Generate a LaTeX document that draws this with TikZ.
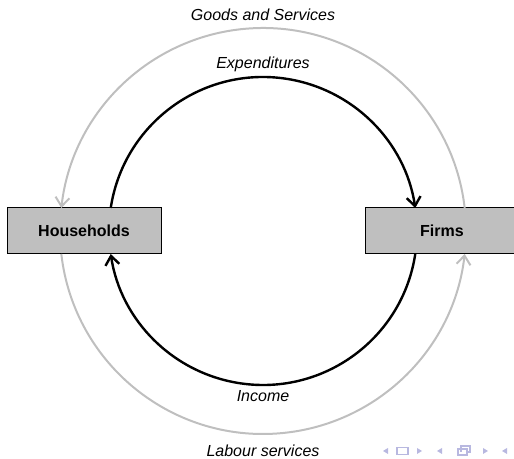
\documentclass[tikz,border=0pt]{standalone}
\usepackage{fontspec}
\setmainfont{Liberation Sans}
\usepackage{tikz}
\usetikzlibrary{arrows.meta,calc}

\definecolor{flowgray}{gray}{0.75}
\definecolor{boxgray}{gray}{0.75}
\definecolor{navblue}{rgb}{0.72,0.72,0.88}

\newcommand{\slidesize}{\fontsize{8}{9.6}\selectfont}

\tikzset{
  sector/.style={draw=black, line width=0.5pt, fill=boxgray, minimum width=77pt,
    minimum height=23pt, inner sep=0pt, font=\slidesize\bfseries},
  realflow/.style={draw=flowgray, line width=1pt, -{Straight Barb[length=4.5pt,width=7pt]}},
  moneyflow/.style={draw=black, line width=1.2pt, -{Straight Barb[length=4.5pt,width=7pt]}},
  flowlabel/.style={font=\slidesize\itshape}
}

\begin{document}
\begin{tikzpicture}[x=0.5pt, y=0.5pt]
  \useasboundingbox (0,0) rectangle (514,459);
  \coordinate (c) at (263,228);

  % the two sectors
  \node[sector] (hh) at (84,228) {Households};
  \node[sector] (firms) at (442,228) {Firms};

  % goods one way, labour the other (outer ring)
  \draw[realflow] ($(c)+(6.5:203)$) arc[start angle=6.5, end angle=173.5, radius=203];
  \draw[realflow] ($(c)+(186.5:203)$) arc[start angle=186.5, end angle=353.5, radius=203];

  % money flows (inner ring)
  \draw[moneyflow] ($(c)+(171.4:154)$) arc[start angle=171.4, end angle=8.6, radius=154];
  \draw[moneyflow] ($(c)+(-8.6:154)$) arc[start angle=-8.6, end angle=-171.4, radius=154];

  \node[flowlabel] (goods) at (263,444) {Goods and Services};
  \node[flowlabel] (exp) at (263,395) {Expenditures};
  \node[flowlabel] (inc) at (263,63) {Income};
  \node[flowlabel] (lab) at (263,8) {Labour services};

  % navigation glyphs
  \fill[navblue] (383,8) -- (388,11) -- (388,5) -- cycle;
  \draw[navblue, line width=0.6pt] (397,4.5) rectangle (408,11.5);
  \fill[navblue] (422,8) -- (417,11) -- (417,5) -- cycle;
  \fill[navblue] (437,8) -- (442,11) -- (442,5) -- cycle;
  \draw[navblue, line width=0.6pt] (458,4) rectangle (467,10) (461,7) -- (461,13) -- (470,13) -- (470,7) -- (467,7);
  \fill[navblue] (488,8) -- (483,11) -- (483,5) -- cycle;
  \fill[navblue] (502,8) -- (507,11) -- (507,5) -- cycle;
\end{tikzpicture}
\end{document}
